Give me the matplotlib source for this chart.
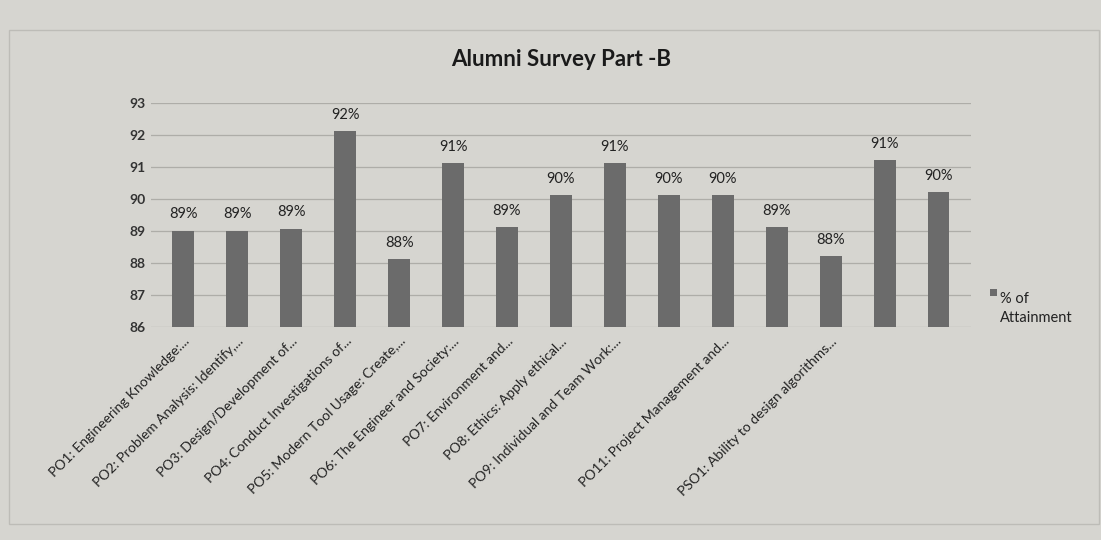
import matplotlib
matplotlib.use("Agg")
import matplotlib.pyplot as plt
from matplotlib.patches import Rectangle

plt.rcParams['font.family'] = ['Lato', 'DejaVu Sans']

categories = [
    "PO1: Engineering Knowledge:...",
    "PO2: Problem Analysis: Identify,...",
    "PO3: Design/Development of...",
    "PO4: Conduct Investigations of...",
    "PO5: Modern Tool Usage: Create,...",
    "PO6: The Engineer and Society:...",
    "PO7: Environment and...",
    "PO8: Ethics: Apply ethical...",
    "PO9: Individual and Team Work:...",
    "PO10: Communication:...",
    "PO11: Project Management and...",
    "PO12: Life-long Learning:...",
    "PSO1: Ability to design algorithms...",
    "PSO2: Ability to apply...",
    "PSO3: Ability to develop...",
]
# Excel only printed some of the category labels
shown = [True] * 9 + [False, True, False, True, False, False]
attainment = [89.0, 89.0, 89.05, 92.1, 88.1, 91.1, 89.1, 90.1, 91.1,
              90.1, 90.1, 89.1, 88.2, 91.2, 90.2]
series_name = "% of\nAttainment"
yticks = [86, 87, 88, 89, 90, 91, 92, 93]

paper = '#d6d5d0'
bar_color = '#6b6b6b'

fig = plt.figure(figsize=(11.01, 5.4), dpi=100, facecolor=paper)
ax = fig.add_axes([0.137, 0.395, 0.745, 0.415])
ax.set_facecolor(paper)

x = list(range(len(categories)))
bars = ax.bar(x, attainment, width=0.4, bottom=0, color=bar_color, zorder=3)
ax.set_ylim(86, 93)
ax.set_xlim(-0.6, len(categories) - 0.4)
ax.set_yticks(yticks)
ax.set_yticklabels([str(t) for t in yticks], fontsize=10, fontweight='bold', color='#333333')
ax.grid(axis='y', color='#aeada8', linewidth=0.9, zorder=0)
for s in ax.spines.values():
    s.set_visible(False)
ax.tick_params(axis='both', length=0)
ax.tick_params(axis='x', pad=6)

ax.set_xticks(x)
ax.set_xticklabels([c if s else "" for c, s in zip(categories, shown)],
                   rotation=45, ha='right', rotation_mode='anchor',
                   fontsize=10, color='#222222')

for xi, v in zip(x, attainment):
    ax.annotate(f"{round(v):d}%", (xi, v), xytext=(0, 7), textcoords='offset points',
                ha='center', va='bottom', fontsize=10.5, color='#222222')

ax.set_title("Alumni Survey Part -B", fontsize=16, fontweight='bold',
             color='#1a1a1a', pad=26)

# legend on the right
fig.patches.append(Rectangle((0.899, 0.452), 0.0065, 0.013, transform=fig.transFigure,
                             facecolor=bar_color, edgecolor='none'))
fig.text(0.908, 0.46, series_name, fontsize=10.5, va='top', ha='left',
         color='#222222', linespacing=1.5)

# chart area border
fig.patches.append(Rectangle((0.008, 0.03), 0.99, 0.915, transform=fig.transFigure,
                             fill=False, edgecolor='#bdbcb7', linewidth=1))

fig.savefig("out.png", dpi=100, facecolor=paper)
